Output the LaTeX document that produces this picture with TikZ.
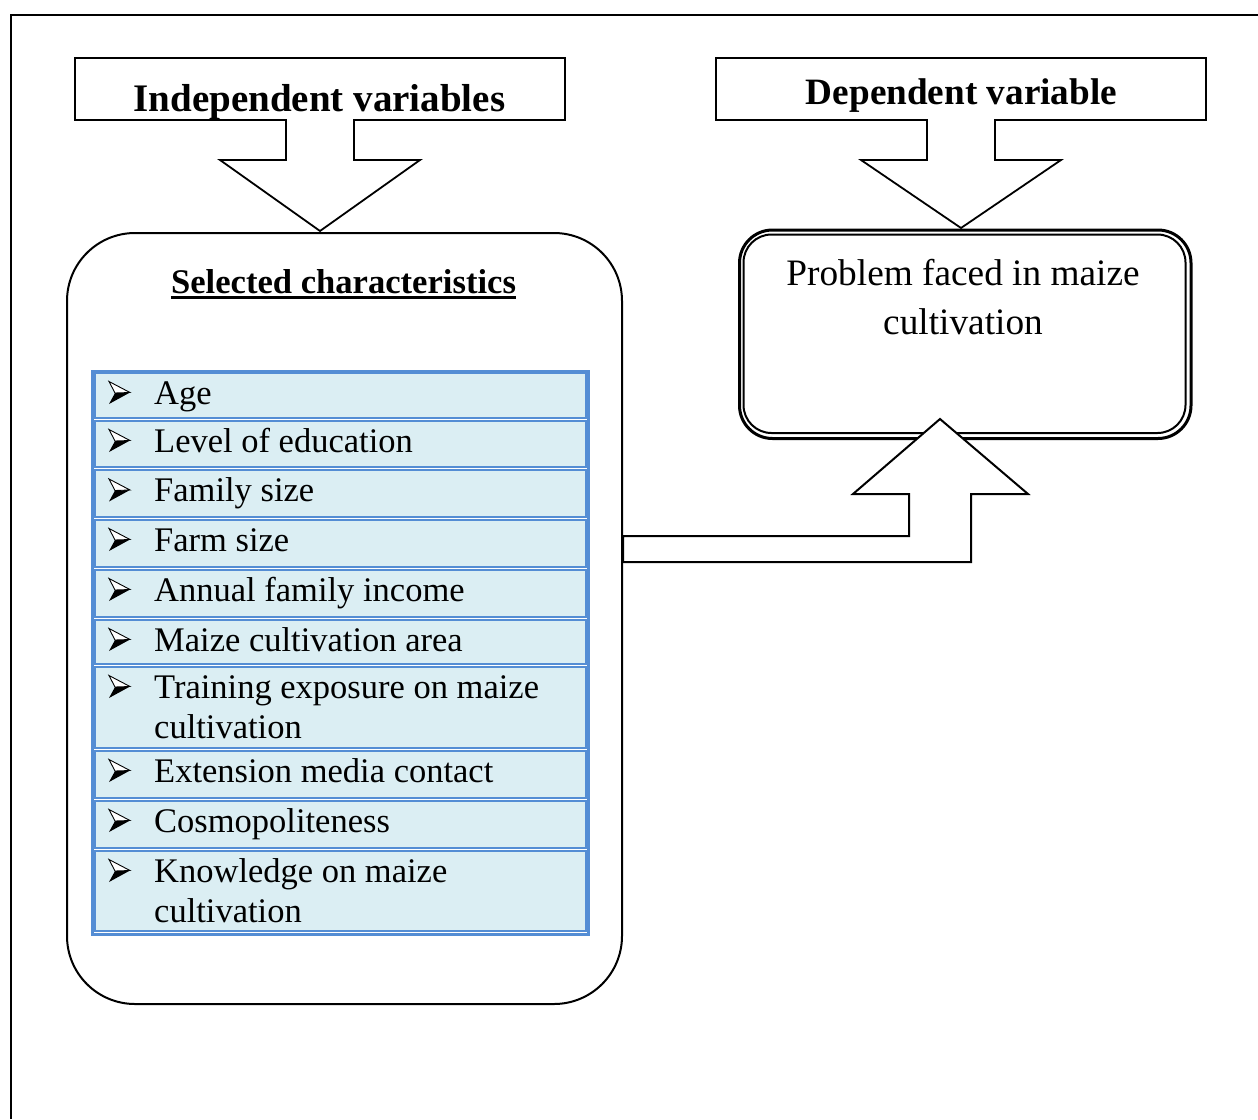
\documentclass[tikz,border=0pt]{standalone}
\usepackage{fontspec}
\setmainfont{Liberation Serif}
\usetikzlibrary{calc}
\definecolor{tblue}{RGB}{84,141,212}
\definecolor{tfill}{RGB}{219,238,243}
\begin{document}
\begin{tikzpicture}[x=1pt,y=-1pt,line join=miter]
\tikzset{
  frame/.style={line width=2.2pt},
  callout/.style={draw,line width=1.8pt,fill=white},
  hdrA/.style={font=\fontsize{39}{44}\selectfont\bfseries,inner sep=0pt,anchor=base},
  hdrB/.style={font=\fontsize{37.2}{44}\selectfont\bfseries,inner sep=0pt,anchor=base},
  cell/.style={draw=tblue,fill=tfill,line width=2pt,anchor=north west,minimum width=491pt,inner sep=0pt},
  item/.style={font=\fontsize{34.5}{40}\selectfont,inner sep=0pt,anchor=base west,align=left},
  bullet/.pic={
    \fill[black] (6,-11) -- (21,-11.5) -- (0,0) -- cycle;
    \draw[line width=0.9pt,fill=white] (0,-22.5) -- (21,-11.5) -- (6,-11) -- cycle;
  }
}
\useasboundingbox (0,0) rectangle (1258,1119);
% outer frame
\coordinate (fTR) at (1258,15);
\coordinate (fTL) at (11,15);
\coordinate (fBL) at (11,1119);
\draw[frame] (fTR) -- (fTL) -- (fBL);

% selected characteristics box
\node[draw,line width=2pt,rounded corners=68pt,minimum width=555pt,minimum height=771pt,anchor=north west,inner sep=0pt] (selbox) at (66,232) {};

% callouts
\draw[callout] (75,58) -- (565,58) -- (565,120) -- (354,120) -- (354,160) -- (420,160) -- (320,231) -- (220,160) -- (286,160) -- (286,120) -- (75,120) -- cycle;
\draw[callout] (716,58) -- (1206,58) -- (1206,120) -- (995,120) -- (995,160) -- (1061,160) -- (961,228) -- (861,160) -- (927,160) -- (927,120) -- (716,120) -- cycle;
\node[hdrA] (indep) at (319.5,111.7) {Independent variables};
\node[hdrB] (dep) at (961.5,104.5) {Dependent variable};

% problem box (double border)
\node[draw,line width=3pt,rounded corners=33pt,minimum width=451.5pt,minimum height=208.5pt,anchor=north west,inner sep=0pt] (prob) at (738,228.5) {};
\node[draw,line width=2pt,rounded corners=28pt,minimum width=442pt,minimum height=198.5pt,anchor=north west,inner sep=0pt] (probin) at (742.5,233.5) {};
\node[font=\fontsize{37.3}{49}\selectfont,align=center,anchor=base,inner sep=0pt] (probtxt) at (963,334) {Problem faced in maize\\cultivation};

% bent block arrow
\draw[callout,line width=2pt] (623,536) -- (909,536) -- (909,494) -- (853,494) -- (940,419) -- (1028,494) -- (971,494) -- (971,562) -- (623,562) -- cycle;

% title
\node[font=\fontsize{34.6}{40}\selectfont\bfseries,anchor=base,inner sep=0pt] (sel) at (343.5,293) {Selected characteristics};
\draw[line width=2.2pt] ($(sel.base west)+(0,4.5)$) -- ($(sel.base east)+(0,4.5)$);

% table
\node[draw=tblue,fill=white,line width=3pt,anchor=north west,minimum width=496.5pt,minimum height=562.5pt,inner sep=0pt] (tbl) at (90.5,370) {};
\node[cell,minimum height=45pt] (c1) at (93.5,371.5) {};
\node[cell,minimum height=46.5pt] (c2) at (93.5,419.5) {};
\node[cell,minimum height=46.5pt] (c3) at (93.5,469) {};
\node[cell,minimum height=47pt] (c4) at (93.5,518.5) {};
\node[cell,minimum height=47pt] (c5) at (93.5,568.5) {};
\node[cell,minimum height=44pt] (c6) at (93.5,618.5) {};
\node[cell,minimum height=81pt] (c7) at (93.5,665.5) {};
\node[cell,minimum height=47pt] (c8) at (93.5,749.5) {};
\node[cell,minimum height=47pt] (c9) at (93.5,799.5) {};
\node[cell,minimum height=80.5pt] (c10) at (93.5,849.5) {};

\foreach \y in {404,452,501.5,551,601,651,698,782,832,882} {\pic at (109,\y) {bullet};}

\node[item] (t1) at (154,404) {Age};
\node[item] (t2) at (154,452) {Level of education};
\node[item] (t3) at (154,501.5) {Family size};
\node[item] (t4) at (154,551) {Farm size};
\node[item] (t5) at (154,601) {Annual family income};
\node[item] (t6) at (154,651) {Maize cultivation area};
\node[item] (t7) at (154,738) {Training exposure on maize\\cultivation};
\node[item] (t8) at (154,782) {Extension media contact};
\node[item] (t9) at (154,832) {Cosmopoliteness};
\node[item] (t10) at (154,922) {Knowledge on maize\\cultivation};
\end{tikzpicture}
\end{document}
